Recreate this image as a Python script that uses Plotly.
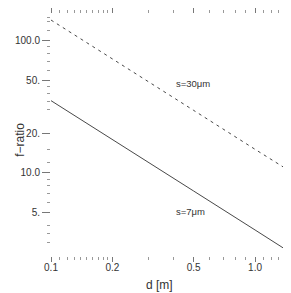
import plotly.graph_objects as go
import math

# data
d_vals = [0.1, 0.2, 0.5, 1.0, 1.5]
f_s30 = [144.0, 73.4, 29.8, 15.1, 10.2]
f_s7 = [35.3, 18.0, 7.3, 3.7, 2.48]

x_major = [0.1, 0.2, 0.5, 1.0]
x_major_text = ["0.1", "0.2", "0.5", "1.0"]
x_minor = [0.11, 0.12, 0.13, 0.14, 0.15, 0.16, 0.17, 0.18, 0.19, 0.3, 0.4,
           0.6, 0.7, 0.8, 0.9, 1.1, 1.2, 1.3, 1.4, 1.5]
y_major = [5, 10, 20, 50, 100]
y_major_text = ["5.", "10.0", "20.", "50.", "100.0"]
y_minor = [3, 3.5, 4, 6, 7, 8, 9, 12, 15, 30, 35, 40, 45, 60, 70, 80, 90, 120, 140, 150]

font = "Liberation Sans, Arial, sans-serif"
tick_col = "#777777"
txt_col = "#333333"

fig = go.Figure()
fig.add_trace(go.Scatter(x=d_vals, y=f_s30, mode="lines",
                         line=dict(color="#333333", width=0.9, dash="3px,4px"),
                         showlegend=False))
fig.add_trace(go.Scatter(x=d_vals, y=f_s7, mode="lines",
                         line=dict(color="#333333", width=0.9),
                         showlegend=False))

fig.update_xaxes(type="log", range=[math.log10(0.1), math.log10(1.5)],
                 showline=False, showgrid=False, zeroline=False,
                 tickvals=x_major, ticktext=x_major_text,
                 ticks="outside", ticklen=5, tickwidth=1, tickcolor=tick_col,
                 ticklabelstandoff=-3,
                 mirror="ticks",
                 minor=dict(tickvals=x_minor, ticks="outside", ticklen=3,
                            tickwidth=1, tickcolor="#999999", showgrid=False),
                 tickfont=dict(family=font, size=10, color=txt_col))
fig.update_yaxes(type="log", range=[math.log10(2.35), math.log10(160)],
                 showline=False, showgrid=False, zeroline=False,
                 tickvals=y_major, ticktext=y_major_text,
                 ticks="outside", ticklen=8, tickwidth=1, tickcolor=tick_col,
                 mirror="ticks",
                 minor=dict(tickvals=y_minor, ticks="outside", ticklen=3,
                            tickwidth=1, tickcolor="#999999", showgrid=False),
                 tickfont=dict(family=font, size=10, color=txt_col))

fig.add_annotation(x=math.log10(0.497), y=math.log10(47.2), text="s=30μm",
                   showarrow=False, xref="x", yref="y",
                   font=dict(family=font, size=9.5, color=txt_col))
fig.add_annotation(x=math.log10(0.48), y=math.log10(5.15), text="s=7μm",
                   showarrow=False, xref="x", yref="y",
                   font=dict(family=font, size=9.5, color=txt_col))
fig.add_annotation(x=-40/240, y=0.48, xref="paper", yref="paper",
                   text="f−ratio", textangle=-90, showarrow=False,
                   font=dict(family=font, size=12, color=txt_col))
fig.add_annotation(x=0.45, y=-29/242, xref="paper", yref="paper",
                   text="d [m]", showarrow=False, yanchor="middle",
                   font=dict(family=font, size=12, color=txt_col))

fig.update_layout(width=291, height=293,
                  margin=dict(l=43, r=8, t=6, b=45),
                  paper_bgcolor="white", plot_bgcolor="white")
fig.write_html("out.html")
